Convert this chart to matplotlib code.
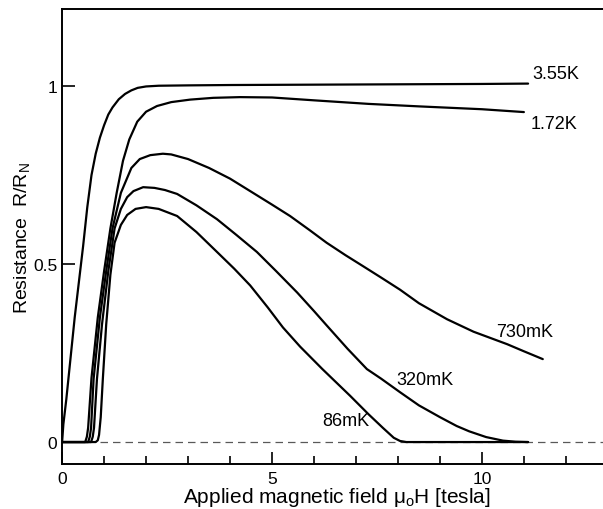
import matplotlib
matplotlib.use('Agg')
import matplotlib.pyplot as plt

plt.rcParams['font.family'] = ['Liberation Sans', 'DejaVu Sans']
plt.rcParams['mathtext.fontset'] = 'custom'
plt.rcParams['mathtext.rm'] = 'Liberation Sans'
plt.rcParams['mathtext.it'] = 'Liberation Sans'

# field (tesla) and R/R_N
h_355 = [0, 0.03, 0.1, 0.3, 0.5, 0.6, 0.7, 0.8, 0.9, 1.0, 1.1, 1.2, 1.35, 1.5, 1.65, 1.8, 2.0, 2.3,
         3.0, 4.0, 6.0, 8.0, 10.0, 11.1]
r_355 = [0, 0.05, 0.12, 0.35, 0.55, 0.66, 0.75, 0.81, 0.855, 0.89, 0.92, 0.94, 0.963, 0.978, 0.988,
         0.995, 0.999, 1.001, 1.002, 1.003, 1.004, 1.005, 1.006, 1.007]

h_172 = [0, 0.55, 0.59, 0.62, 0.7, 0.85, 1.0, 1.15, 1.3, 1.45, 1.6, 1.79, 2.0, 2.26, 2.6, 3.05, 3.6,
         4.24, 5.0, 6.0, 7.3, 8.5, 10.0, 11.0]
r_172 = [0, 0, 0.015, 0.04, 0.18, 0.35, 0.48, 0.6, 0.7, 0.79, 0.85, 0.9, 0.928, 0.944, 0.955, 0.962,
         0.967, 0.969, 0.968, 0.96, 0.95, 0.943, 0.935, 0.927]

h_730 = [0, 0.62, 0.66, 0.69, 0.75, 0.9, 1.05, 1.2, 1.4, 1.65, 1.85, 2.1, 2.4, 2.6, 3.0, 3.5, 4.0,
         4.48, 5.0, 5.43, 5.9, 6.3, 6.75, 7.17, 7.6, 8.05, 8.5, 9.17, 9.8, 10.6, 11.0, 11.45]
r_730 = [0, 0, 0.015, 0.04, 0.177, 0.35, 0.48, 0.6, 0.7, 0.77, 0.795, 0.806, 0.81, 0.808, 0.795,
         0.77, 0.74, 0.705, 0.667, 0.635, 0.595, 0.56, 0.525, 0.494, 0.462, 0.428, 0.39, 0.345,
         0.31, 0.275, 0.255, 0.233]

h_320 = [0, 0.69, 0.73, 0.76, 0.83, 0.95, 1.1, 1.25, 1.4, 1.55, 1.7, 1.93, 2.2, 2.45, 2.74, 3.2,
         3.69, 4.15, 4.64, 5.1, 5.6, 6.0, 6.3, 6.8, 7.26, 7.6, 8.05, 8.5, 9.0, 9.4, 9.7, 10.1, 10.5,
         10.8, 11.1]
r_320 = [0, 0, 0.015, 0.04, 0.177, 0.33, 0.48, 0.6, 0.655, 0.688, 0.705, 0.716, 0.714, 0.708, 0.697,
         0.665, 0.626, 0.582, 0.534, 0.48, 0.42, 0.368, 0.328, 0.262, 0.205, 0.178, 0.14, 0.103,
         0.07, 0.045, 0.03, 0.014, 0.004, 0.001, 0]

h_86 = [0, 0.8, 0.85, 0.88, 0.92, 0.97, 1.05, 1.15, 1.25, 1.4, 1.55, 1.75, 2.0, 2.3, 2.74, 3.2, 3.69,
        4.1, 4.48, 4.9, 5.26, 5.67, 6.2, 6.86, 7.3, 7.64, 7.9, 8.05, 8.2, 11.1]
r_86 = [0, 0, 0.005, 0.02, 0.07, 0.177, 0.33, 0.47, 0.56, 0.61, 0.638, 0.655, 0.66, 0.655, 0.635,
        0.59, 0.534, 0.487, 0.44, 0.378, 0.322, 0.268, 0.205, 0.13, 0.078, 0.04, 0.012, 0.003, 0, 0]

curves = [(h_355, r_355), (h_172, r_172), (h_730, r_730), (h_320, r_320), (h_86, r_86)]
labels = ['3.55K', '1.72K', '730mK', '320mK', '86mK']
label_pos = [(11.2, 1.035), (11.15, 0.895), (10.35, 0.31), (7.95, 0.177), (6.2, 0.06)]

fig = plt.figure(figsize=(6.03, 5.1), dpi=100)
ax = fig.add_axes([0.103, 0.088, 0.912, 0.892])

ax.plot([0.9, 13.1], [0, 0], ls=(0, (6, 4)), color='0.35', lw=0.9)
for h, r in curves:
    ax.plot(h, r, color='black', lw=1.6, solid_capstyle='round', solid_joinstyle='round')

for txt, (x, y) in zip(labels, label_pos):
    ax.text(x, y, txt, fontsize=13, va='center', ha='left')

ax.set_xlim(0, 13.1)
ax.set_ylim(-0.062, 1.216)

ax.set_xticks([0, 5, 10])
ax.set_xticks(range(1, 13), minor=True)
ax.set_yticks([0, 0.5, 1])
ax.set_yticklabels(['0', '0.5', '1'])
ax.tick_params(which='major', direction='in', length=9, width=1.2, labelsize=12.5)
ax.tick_params(which='minor', direction='in', length=6, width=1.2)
ax.tick_params(axis='x', pad=5)
ax.spines['right'].set_visible(False)

for s in ax.spines.values():
    s.set_linewidth(1.4)

ax.set_xlabel(r'Applied magnetic field $\mu_\mathrm{o}$H $[$tesla$]$', fontsize=15, labelpad=-1)
ax.set_ylabel(r'Resistance  R/R$_\mathrm{N}$', fontsize=14, labelpad=1)

fig.savefig('out.png', dpi=100)
